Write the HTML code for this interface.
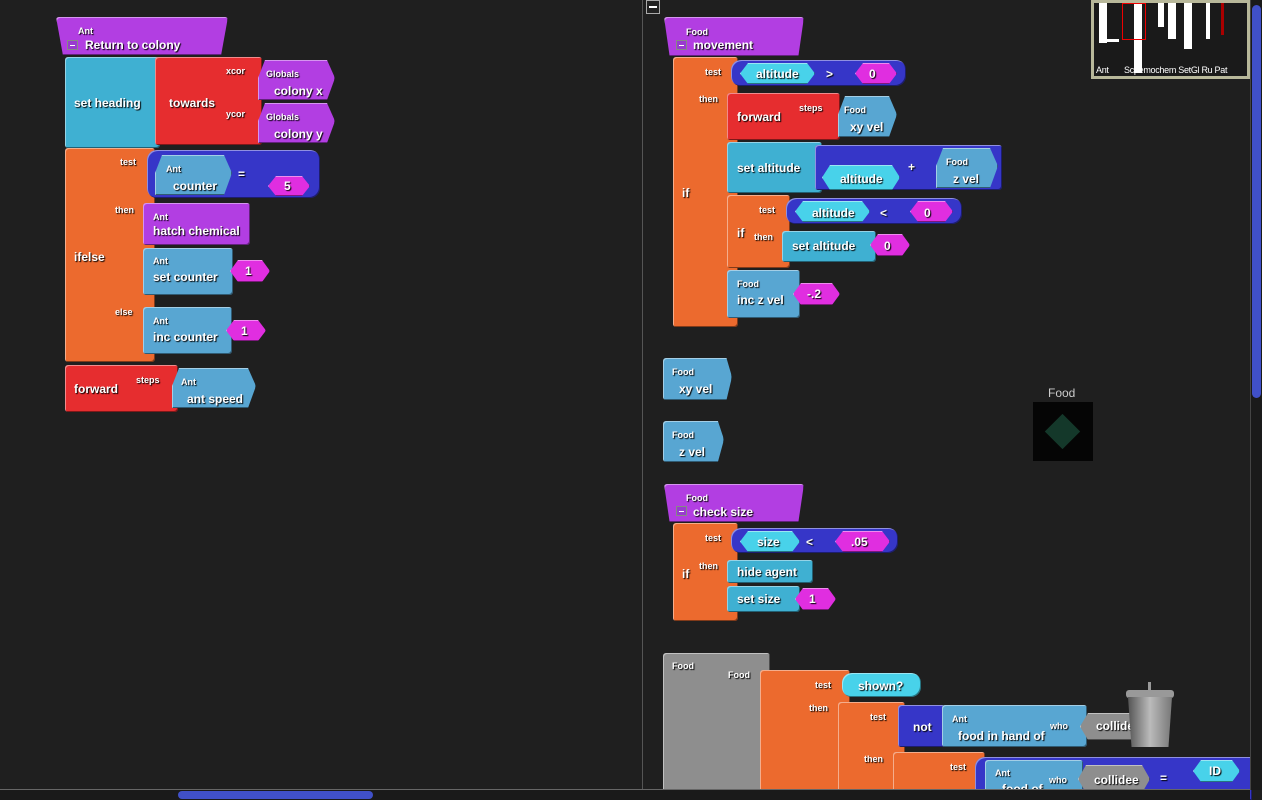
<!DOCTYPE html>
<html><head><meta charset="utf-8"><style>
*{margin:0;padding:0;box-sizing:border-box}
body{width:1262px;height:800px;background:#1f1f1f;position:relative;overflow:hidden;font-family:"Liberation Sans",sans-serif}
.b{position:absolute;border-radius:3px;box-shadow:inset 1px 1px 0 rgba(255,255,255,.45),inset -1px -1px 0 rgba(0,0,0,.45)}
.hx{clip-path:polygon(8px 0,calc(100% - 8px) 0,100% 50%,calc(100% - 8px) 100%,8px 100%,0 50%);border-radius:0}
.vr{clip-path:polygon(7px 0,calc(100% - 8px) 0,100% 45%,calc(100% - 8px) 100%,0 100%,0 45%);border-radius:0}
.t{position:absolute;color:#fff;font-weight:bold;font-size:12px;text-shadow:1px 1px 1px #000;white-space:nowrap}
.s{position:absolute;color:#fff;font-weight:bold;font-size:9px;text-shadow:1px 1px 1px #000;white-space:nowrap}
.P{background:#b23ee2}.C{background:#3fb0d2}.R{background:#e62d2f}.O{background:#ec6a2e}.B{background:#3636c8}.M{background:#e02ee0}.L{background:#58a6d2}.Y{background:#48d2ea}.G{background:#8e8e8e}
.mn{position:absolute;width:11px;height:10px;border:1px solid #888;background:#9a3ad0}
.mn:after{content:"";position:absolute;left:2px;top:4px;width:5px;height:1px;background:#fff}
</style></head><body>
<div style="position:absolute;left:642px;top:0;width:1px;height:800px;background:#555"></div>
<div style="position:absolute;left:646px;top:0;width:14px;height:14px;border:1px solid #aaa;background:#222"><div style="position:absolute;left:2px;top:5px;width:8px;height:2px;background:#fff"></div></div>

<!-- LEFT -->
<div class="b P" style="left:56px;top:17px;width:172px;height:38px;clip-path:polygon(0 0,100% 0,96% 100%,4% 100%)"></div>
<div class="s" style="left:78px;top:26px">Ant</div><div class="mn" style="left:67px;top:40px"></div>
<div class="t" style="left:85px;top:38px">Return to colony</div>
<div class="b C" style="left:65px;top:57px;width:95px;height:91px"></div><div class="t" style="left:74px;top:96px">set heading</div>
<div class="b R" style="left:155px;top:57px;width:107px;height:88px"></div><div class="t" style="left:169px;top:96px">towards</div>
<div class="s" style="left:226px;top:66px">xcor</div><div class="s" style="left:226px;top:109px">ycor</div>
<div class="b P vr" style="left:258px;top:60px;width:77px;height:40px"></div><div class="s" style="left:266px;top:69px">Globals</div><div class="t" style="left:274px;top:84px">colony x</div>
<div class="b P vr" style="left:258px;top:103px;width:77px;height:40px"></div><div class="s" style="left:266px;top:112px">Globals</div><div class="t" style="left:274px;top:127px">colony y</div>
<div class="b O" style="left:65px;top:148px;width:90px;height:214px"></div><div class="t" style="left:74px;top:250px">ifelse</div>
<div class="s" style="left:120px;top:157px">test</div><div class="s" style="left:115px;top:205px">then</div><div class="s" style="left:115px;top:307px">else</div>
<div class="b B" style="left:147px;top:150px;width:173px;height:48px;border-radius:10px"></div>
<div class="b L vr" style="left:155px;top:155px;width:77px;height:40px"></div><div class="s" style="left:166px;top:164px">Ant</div><div class="t" style="left:173px;top:179px">counter</div>
<div class="t" style="left:238px;top:167px">=</div>
<div class="b M hx" style="left:268px;top:176px;width:42px;height:20px"></div><div class="t" style="left:284px;top:179px">5</div>
<div class="b P" style="left:143px;top:203px;width:107px;height:42px"></div><div class="s" style="left:153px;top:212px">Ant</div><div class="t" style="left:153px;top:224px">hatch  chemical</div>
<div class="b L" style="left:143px;top:248px;width:90px;height:47px"></div><div class="s" style="left:153px;top:256px">Ant</div><div class="t" style="left:153px;top:270px">set counter</div>
<div class="b M hx" style="left:230px;top:260px;width:40px;height:22px"></div><div class="t" style="left:245px;top:264px">1</div>
<div class="b L" style="left:143px;top:307px;width:89px;height:47px"></div><div class="s" style="left:153px;top:316px">Ant</div><div class="t" style="left:153px;top:330px">inc counter</div>
<div class="b M hx" style="left:226px;top:320px;width:40px;height:21px"></div><div class="t" style="left:241px;top:324px">1</div>
<div class="b R" style="left:65px;top:365px;width:113px;height:47px"></div><div class="t" style="left:74px;top:382px">forward</div><div class="s" style="left:136px;top:375px">steps</div>
<div class="b L vr" style="left:172px;top:368px;width:84px;height:40px"></div><div class="s" style="left:181px;top:377px">Ant</div><div class="t" style="left:187px;top:392px">ant speed</div>

<!-- RIGHT -->
<div class="b P" style="left:664px;top:17px;width:140px;height:39px;clip-path:polygon(0 0,100% 0,96% 100%,4% 100%)"></div>
<div class="s" style="left:686px;top:27px">Food</div><div class="mn" style="left:676px;top:40px"></div><div class="t" style="left:693px;top:38px">movement</div>
<div class="b O" style="left:673px;top:57px;width:65px;height:270px"></div><div class="t" style="left:682px;top:186px">if</div>
<div class="s" style="left:705px;top:67px">test</div><div class="s" style="left:699px;top:94px">then</div>
<div class="b B" style="left:731px;top:60px;width:175px;height:26px;border-radius:10px"></div>
<div class="b Y hx" style="left:740px;top:63px;width:75px;height:21px"></div><div class="t" style="left:756px;top:67px">altitude</div>
<div class="t" style="left:826px;top:67px">&gt;</div>
<div class="b M hx" style="left:855px;top:63px;width:42px;height:21px"></div><div class="t" style="left:869px;top:67px">0</div>
<div class="b R" style="left:727px;top:93px;width:113px;height:47px"></div><div class="t" style="left:737px;top:110px">forward</div><div class="s" style="left:799px;top:103px">steps</div>
<div class="b L vr" style="left:838px;top:96px;width:59px;height:41px"></div><div class="s" style="left:844px;top:105px">Food</div><div class="t" style="left:850px;top:120px">xy vel</div>
<div class="b C" style="left:727px;top:142px;width:95px;height:51px"></div><div class="t" style="left:737px;top:161px">set altitude</div>
<div class="b B" style="left:815px;top:145px;width:187px;height:45px"></div>
<div class="b Y hx" style="left:822px;top:165px;width:78px;height:25px"></div><div class="t" style="left:840px;top:172px">altitude</div>
<div class="t" style="left:908px;top:160px">+</div>
<div class="b L vr" style="left:936px;top:148px;width:62px;height:40px"></div><div class="s" style="left:946px;top:157px">Food</div><div class="t" style="left:953px;top:172px">z vel</div>
<div class="b O" style="left:727px;top:195px;width:63px;height:73px"></div><div class="t" style="left:737px;top:226px">if</div>
<div class="s" style="left:759px;top:205px">test</div><div class="s" style="left:754px;top:232px">then</div>
<div class="b B" style="left:786px;top:198px;width:176px;height:26px;border-radius:10px"></div>
<div class="b Y hx" style="left:795px;top:201px;width:75px;height:21px"></div><div class="t" style="left:812px;top:206px">altitude</div>
<div class="t" style="left:880px;top:206px">&lt;</div>
<div class="b M hx" style="left:910px;top:201px;width:43px;height:21px"></div><div class="t" style="left:924px;top:206px">0</div>
<div class="b C" style="left:782px;top:231px;width:94px;height:31px"></div><div class="t" style="left:792px;top:239px">set altitude</div>
<div class="b M hx" style="left:870px;top:234px;width:40px;height:22px"></div><div class="t" style="left:884px;top:239px">0</div>
<div class="b L" style="left:727px;top:270px;width:73px;height:48px"></div><div class="s" style="left:737px;top:279px">Food</div><div class="t" style="left:737px;top:293px">inc z vel</div>
<div class="b M hx" style="left:793px;top:283px;width:47px;height:22px"></div><div class="t" style="left:807px;top:287px">-.2</div>

<div class="b L" style="left:663px;top:358px;width:69px;height:42px;clip-path:polygon(0 0,92% 0,100% 45%,92% 100%,0 100%)"></div><div class="s" style="left:672px;top:367px">Food</div><div class="t" style="left:679px;top:382px">xy vel</div>
<div class="b L" style="left:663px;top:421px;width:61px;height:41px;clip-path:polygon(0 0,90% 0,100% 45%,90% 100%,0 100%)"></div><div class="s" style="left:672px;top:430px">Food</div><div class="t" style="left:679px;top:445px">z vel</div>

<div style="position:absolute;left:1048px;top:386px;color:#ccc;font-size:12px">Food</div>
<div style="position:absolute;left:1033px;top:402px;width:60px;height:59px;background:#050505"></div>
<div style="position:absolute;left:1050px;top:419px;width:25px;height:25px;background:#14382a;transform:rotate(45deg)"></div>

<div class="b P" style="left:664px;top:484px;width:140px;height:38px;clip-path:polygon(0 0,100% 0,96% 100%,4% 100%)"></div>
<div class="s" style="left:686px;top:493px">Food</div><div class="mn" style="left:676px;top:506px"></div><div class="t" style="left:693px;top:505px">check size</div>
<div class="b O" style="left:673px;top:523px;width:65px;height:98px"></div><div class="t" style="left:682px;top:567px">if</div>
<div class="s" style="left:705px;top:533px">test</div><div class="s" style="left:699px;top:561px">then</div>
<div class="b B" style="left:731px;top:528px;width:167px;height:25px;border-radius:10px"></div>
<div class="b Y hx" style="left:740px;top:531px;width:60px;height:21px"></div><div class="t" style="left:757px;top:535px">size</div>
<div class="t" style="left:806px;top:535px">&lt;</div>
<div class="b M hx" style="left:835px;top:531px;width:55px;height:21px"></div><div class="t" style="left:851px;top:535px">.05</div>
<div class="b C" style="left:727px;top:560px;width:86px;height:23px"></div><div class="t" style="left:737px;top:565px">hide agent</div>
<div class="b C" style="left:727px;top:586px;width:73px;height:26px"></div><div class="t" style="left:737px;top:592px">set size</div>
<div class="b M hx" style="left:795px;top:588px;width:41px;height:22px"></div><div class="t" style="left:809px;top:592px">1</div>

<div class="b G" style="left:663px;top:653px;width:107px;height:147px"></div><div class="s" style="left:672px;top:661px">Food</div>
<div class="b O" style="left:760px;top:670px;width:90px;height:130px"></div><div class="s" style="left:728px;top:670px">Food</div>
<div class="s" style="left:815px;top:680px">test</div><div class="s" style="left:809px;top:703px">then</div>
<div class="b Y" style="left:842px;top:673px;width:79px;height:24px;border-radius:10px"></div><div class="t" style="left:858px;top:679px">shown?</div>
<div class="b O" style="left:838px;top:702px;width:67px;height:98px"></div>
<div class="s" style="left:870px;top:712px">test</div><div class="s" style="left:864px;top:754px">then</div>
<div class="b B" style="left:898px;top:705px;width:47px;height:42px"></div><div class="t" style="left:913px;top:720px">not</div>
<div class="b L" style="left:942px;top:705px;width:145px;height:42px"></div><div class="s" style="left:952px;top:714px">Ant</div><div class="t" style="left:958px;top:729px">food in hand of</div><div class="s" style="left:1050px;top:721px">who</div>
<div class="b G hx" style="left:1080px;top:713px;width:70px;height:27px"></div><div class="t" style="left:1096px;top:719px">collidee</div>
<div style="position:absolute;left:1126px;top:690px;width:48px;height:8px;background:#999;border-radius:3px"></div>
<div style="position:absolute;left:1128px;top:697px;width:44px;height:50px;background:linear-gradient(90deg,#555,#bbb,#777);clip-path:polygon(0 0,100% 0,92% 100%,8% 100%)"></div>
<div style="position:absolute;left:1148px;top:682px;width:3px;height:9px;background:#999"></div>
<div class="b O" style="left:893px;top:752px;width:92px;height:48px"></div><div class="s" style="left:950px;top:762px">test</div>
<div class="b B" style="left:975px;top:757px;width:277px;height:43px;border-radius:10px 0 0 0"></div>
<div class="b L" style="left:985px;top:760px;width:98px;height:40px"></div><div class="s" style="left:995px;top:768px">Ant</div><div class="t" style="left:1002px;top:782px">food of</div><div class="s" style="left:1049px;top:775px">who</div>
<div class="b G hx" style="left:1078px;top:765px;width:72px;height:28px"></div><div class="t" style="left:1094px;top:773px">collidee</div>
<div class="t" style="left:1160px;top:771px">=</div>
<div class="b Y hx" style="left:1193px;top:760px;width:47px;height:22px"></div><div class="t" style="left:1209px;top:764px">ID</div>

<!-- minimap -->
<div style="position:absolute;left:1091px;top:0;width:159px;height:79px;background:#b8b89a;padding:3px"><div style="width:100%;height:100%;background:#1a1a1a;position:relative">
<div style="position:absolute;left:5px;top:0;width:8px;height:40px;background:#fff"></div>
<div style="position:absolute;left:5px;top:36px;width:20px;height:3px;background:#fff"></div>
<div style="position:absolute;left:40px;top:0;width:8px;height:70px;background:#fff"></div>
<div style="position:absolute;left:28px;top:0;width:24px;height:37px;border:1px solid #e00"></div>
<div style="position:absolute;left:64px;top:0;width:6px;height:24px;background:#fff"></div>
<div style="position:absolute;left:74px;top:0;width:8px;height:36px;background:#fff"></div>
<div style="position:absolute;left:90px;top:0;width:8px;height:46px;background:#fff"></div>
<div style="position:absolute;left:112px;top:0;width:4px;height:36px;background:#fff"></div>
<div style="position:absolute;left:127px;top:0;width:3px;height:32px;background:#a00"></div>
<div style="position:absolute;left:2px;top:62px;color:#fff;font-size:9px;white-space:nowrap;letter-spacing:-.3px">Ant &nbsp; &nbsp; &nbsp; Scpemochem SetGl Ru Pat</div>
</div></div>

<!-- scrollbars -->
<div style="position:absolute;left:1250px;top:0;width:12px;height:790px;background:#1a1a1a;border-left:1px solid #444"></div>
<div style="position:absolute;left:1252px;top:5px;width:9px;height:393px;background:#4050c8;border-radius:5px"></div>
<div style="position:absolute;left:0;top:789px;width:1250px;height:11px;background:#1a1a1a;border-top:1px solid #666"></div>
<div style="position:absolute;left:178px;top:791px;width:195px;height:8px;background:#4050c8;border-radius:4px"></div>
</body></html>
